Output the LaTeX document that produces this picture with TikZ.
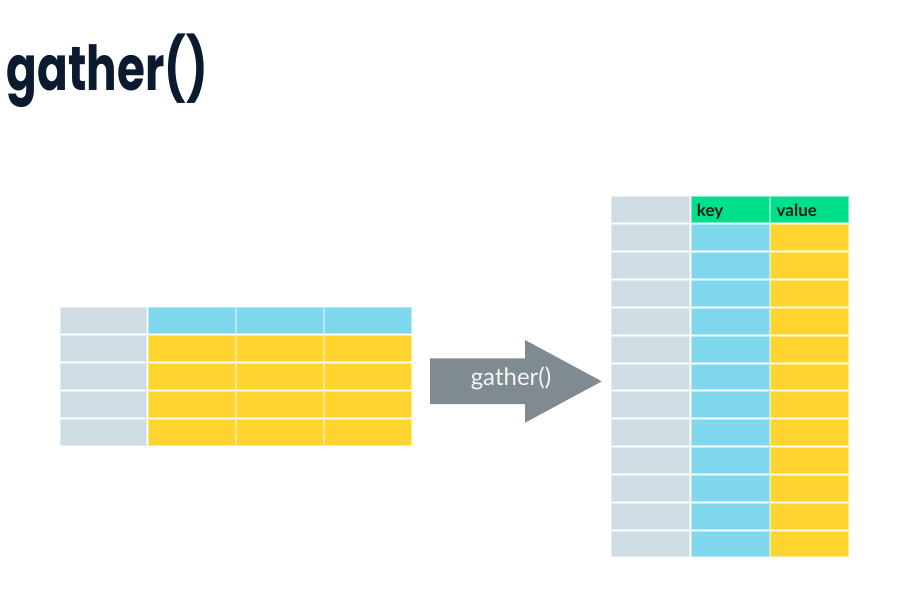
\documentclass[tikz,border=0pt]{standalone}
\usepackage{fontspec}
\setmainfont{Lato}
\newfontfamily\titlefont{Poppins}
\definecolor{cgray}{HTML}{CEDCE3}
\definecolor{cblue}{HTML}{7ED7EC}
\definecolor{cyellow}{HTML}{FFD42E}
\definecolor{cgreen}{HTML}{00E08C}
\definecolor{carrow}{HTML}{7F8B90}
\definecolor{cnavy}{HTML}{0B1A2F}
\definecolor{chdr}{HTML}{0F1E1A}
\begin{document}
\begin{tikzpicture}[x=1pt,y=-1pt,
  cell/.style={rectangle, inner sep=0pt, outer sep=0pt, anchor=north west,
    fill=#1, draw=#1!55!white, line width=0.5pt},
  hdr/.style={anchor=base west, inner sep=0pt, text=chdr,
    font=\bfseries\fontsize{17}{17}\selectfont}]
\useasboundingbox (0,0) rectangle (897,590);
\fill[white] (0,0) rectangle (897,590);
% title
\node[anchor=base west, inner sep=0pt, text=cnavy, xscale=0.73,
  font=\titlefont\bfseries\fontsize{62}{62}\selectfont] (title) at (6.7,90) {gather()};
% left table
\foreach \r in {0,...,4}{
  \foreach \c in {0,...,3}{
    \ifnum\c=0 \def\col{cgray}\else\ifnum\r=0 \def\col{cblue}\else\def\col{cyellow}\fi\fi
    \pgfmathsetmacro\xx{60+88.2*\c}
    \pgfmathsetmacro\yy{307.3+27.9*\r}
    \node[cell=\col, minimum width=86.6pt, minimum height=26.4pt] (L-\r-\c) at (\xx,\yy) {};
  }
}
% right table
\foreach \r in {0,...,12}{
  \foreach \c in {0,...,2}{
    \ifnum\c=0 \def\col{cgray}\else\ifnum\r=0 \def\col{cgreen}\else\ifnum\c=1 \def\col{cblue}\else\def\col{cyellow}\fi\fi\fi
    \pgfmathsetmacro\xx{611.7+79.5*\c}
    \pgfmathsetmacro\yy{196.7+27.85*\r}
    \node[cell=\col, minimum width=77.6pt, minimum height=25.8pt] (R-\r-\c) at (\xx,\yy) {};
  }
}
\node[hdr] (key) at (696.7,216.7) {key};
\node[hdr] (value) at (776.5,216.7) {value};
% arrow
\fill[carrow] (430,358.3) -- (525,358.3) -- (525,340) -- (601.7,381.3) -- (525,422.7) -- (525,404) -- (430,404) -- cycle;
\node[anchor=base, inner sep=0pt, text=white!92!carrow,
  font=\fontsize{24}{24}\selectfont] (arrowlbl) at (511,385) {gather()};
\end{tikzpicture}
\end{document}
